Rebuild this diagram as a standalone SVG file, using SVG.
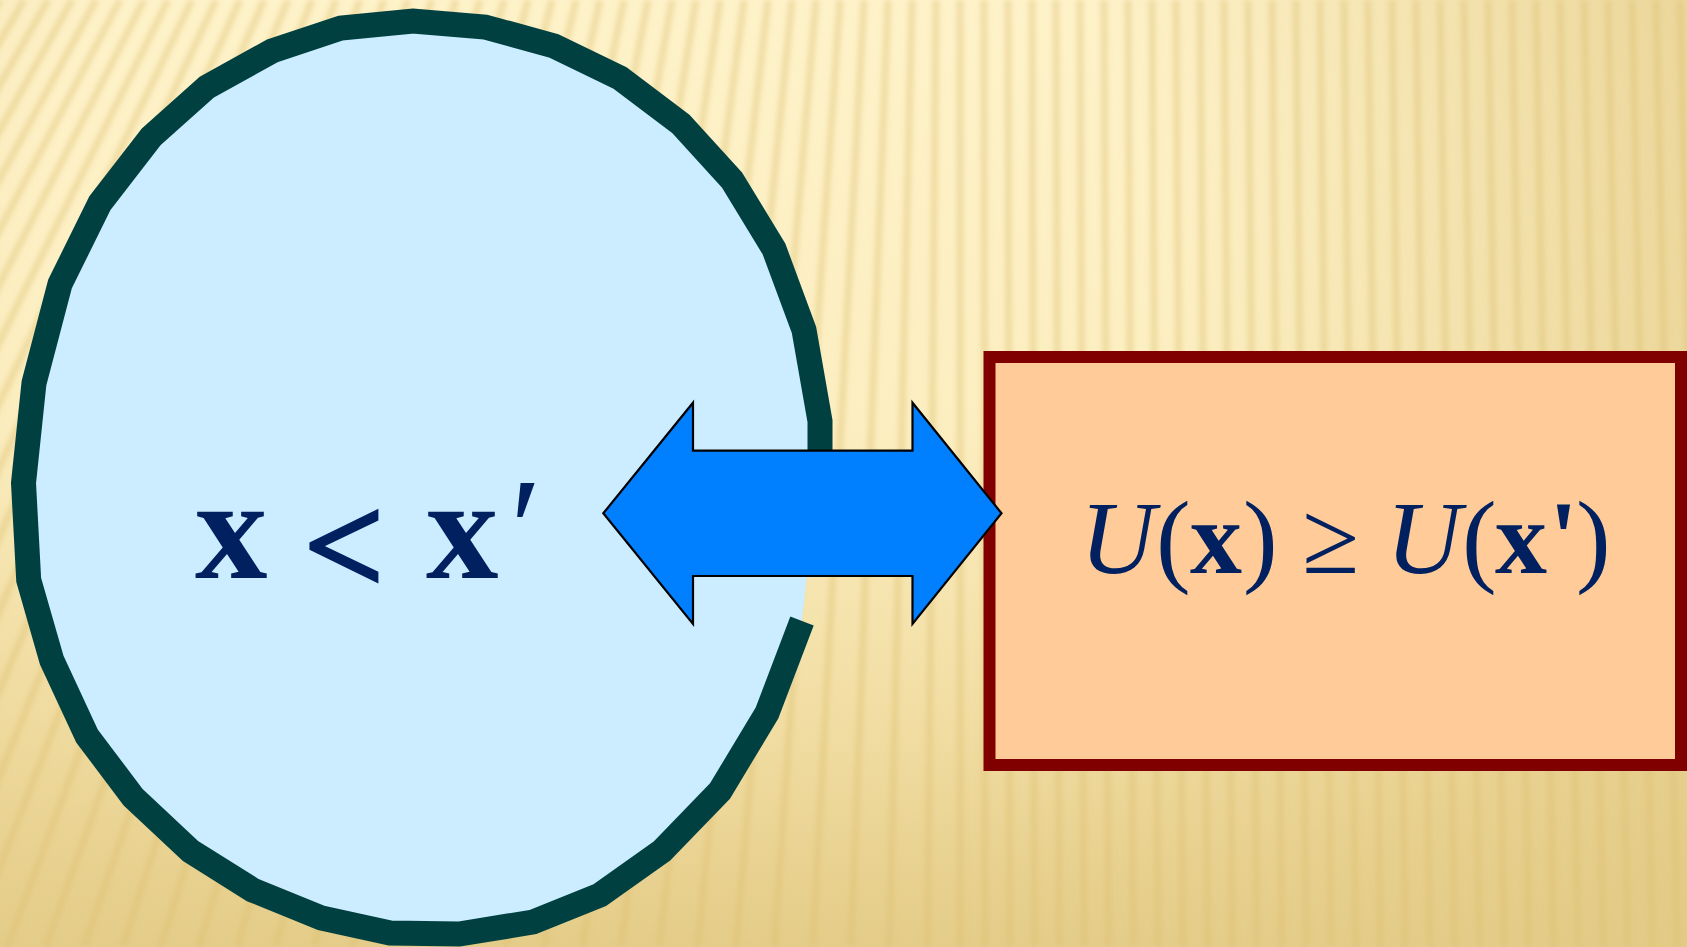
<svg xmlns="http://www.w3.org/2000/svg" width="1687" height="947" viewBox="0 0 1687 947">
<defs>
<style>
.stripe{fill:none;stroke:#DDBF6E;stroke-width:7;stroke-opacity:0.4}
.set-fill{fill:#CCECFF;stroke:none}
.set-line{fill:none;stroke:#004040;stroke-width:25;stroke-linejoin:miter;stroke-linecap:butt}
.box{fill:#FFCC99;stroke:#800000;stroke-width:12}
.arrow{fill:#007FFF;stroke:#000000;stroke-width:2.2;stroke-linejoin:miter}
.math{font-family:"Liberation Serif","Times New Roman",serif;fill:#002060}
.b{font-weight:bold}
.i{font-style:italic}
.r{font-weight:normal;font-style:normal}
</style>
<linearGradient id="bgv" x1="0" y1="0" x2="0" y2="1">
<stop offset="0" stop-color="#FEF2C9"/>
<stop offset="0.45" stop-color="#FCEEC0"/>
<stop offset="0.75" stop-color="#F2DEA4"/>
<stop offset="1" stop-color="#E4CC88"/>
</linearGradient>
<radialGradient id="bgr" cx="600" cy="300" r="1250" gradientUnits="userSpaceOnUse">
<stop offset="0.45" stop-color="#E6CF8E" stop-opacity="0"/>
<stop offset="1" stop-color="#E3CA85" stop-opacity="0.85"/>
</radialGradient>
<filter id="soft" x="-0.05" y="-0.05" width="1.1" height="1.1">
<feGaussianBlur stdDeviation="2.6"/>
</filter>
</defs>

<g id="background">
<rect x="0" y="0" width="1687" height="947" fill="url(#bgv)"/>
<rect x="0" y="0" width="1687" height="947" fill="url(#bgr)"/>
<path class="stripe" filter="url(#soft)" d="M0 0L-568 947M24 0L-529.6 947M48 0L-491.3 947M72 0L-452.9 947M96 0L-414.6 947M120 0L-376.2 947M144 0L-337.9 947M168 0L-299.5 947M192 0L-261.2 947M216 0L-222.8 947M240 0L-184.5 947M264 0L-146.1 947M288 0L-107.8 947M312 0L-69.4 947M336 0L-31.1 947M360 0L7.3 947M384 0L45.6 947M408 0L84 947M432 0L122.3 947M456 0L160.7 947M480 0L199 947M504 0L237.4 947M528 0L275.7 947M552 0L314.1 947M576 0L352.4 947M600 0L390.8 947M624 0L429.2 947M648 0L467.5 947M672 0L505.9 947M696 0L544.2 947M720 0L582.6 947M744 0L620.9 947M768 0L659.3 947M792 0L697.6 947M816 0L736 947M840 0L774.3 947M864 0L812.7 947M888 0L851 947M912 0L889.4 947M936 0L927.7 947M960 0L960.3 947M984 0L985 947M1008 0L1009.7 947M1032 0L1034.5 947M1056 0L1059.2 947M1080 0L1083.9 947M1104 0L1108.6 947M1128 0L1133.3 947M1152 0L1158.1 947M1176 0L1182.8 947M1200 0L1207.5 947M1224 0L1232.2 947M1248 0L1256.9 947M1272 0L1281.7 947M1296 0L1306.4 947M1320 0L1331.1 947M1344 0L1355.8 947M1368 0L1380.5 947M1392 0L1405.3 947M1416 0L1430 947M1440 0L1454.7 947M1464 0L1479.4 947M1488 0L1504.1 947M1512 0L1528.9 947M1536 0L1553.6 947M1560 0L1578.3 947M1584 0L1603 947M1608 0L1627.7 947M1632 0L1652.5 947M1656 0L1677.2 947M1680 0L1701.9 947"/>
</g>

<g id="set-node">
<path class="set-fill" d="M802 621L767 713L720 791L662 851L600 895L533 922L459 934L390 933L321.5 918L252.6 890L190.6 851L133 797L87 736L51.7 660L28.7 580L23.5 483L34 383L60 284L100 203L151 137L207 87L272 51L341 28L413 21L485 27L554 46L620 78L681 124L732 180L774 249L804 330L820 421L820 455Z"/>
<path class="set-line" d="M802 621L767 713L720 791L662 851L600 895L533 922L459 934L390 933L321.5 918L252.6 890L190.6 851L133 797L87 736L51.7 660L28.7 580L23.5 483L34 383L60 284L100 203L151 137L207 87L272 51L341 28L413 21L485 27L554 46L620 78L681 124L732 180L774 249L804 330L820 421L820 455"/>
<text class="math" font-size="145"><tspan class="b" x="195" y="578">x</tspan><tspan class="b" x="303" y="594" stroke="#002060" stroke-width="1.5">&lt;</tspan><tspan class="b" x="426" y="578">x</tspan><tspan class="r" x="510" y="578">′</tspan></text>
</g>

<g id="utility-node">
<rect class="box" x="989.5" y="357" width="691.5" height="408"/>
<text class="math" font-size="104" y="573"><tspan class="i" x="1080">U</tspan><tspan x="1156">(</tspan><tspan class="b" x="1190">x</tspan><tspan x="1243">)</tspan><tspan x="1302">≥</tspan><tspan class="i" x="1386">U</tspan><tspan x="1462">(</tspan><tspan class="b" x="1495">x</tspan><tspan class="b" x="1549">'</tspan><tspan x="1576">)</tspan></text>
</g>

<g id="connectors">
<path class="arrow" d="M603.3 513.3L693 402.7L693 450.7L912.5 450.7L912.5 402.7L1001.5 513.3L912.5 624L912.5 576L693 576L693 624Z"/>
</g>
</svg>
